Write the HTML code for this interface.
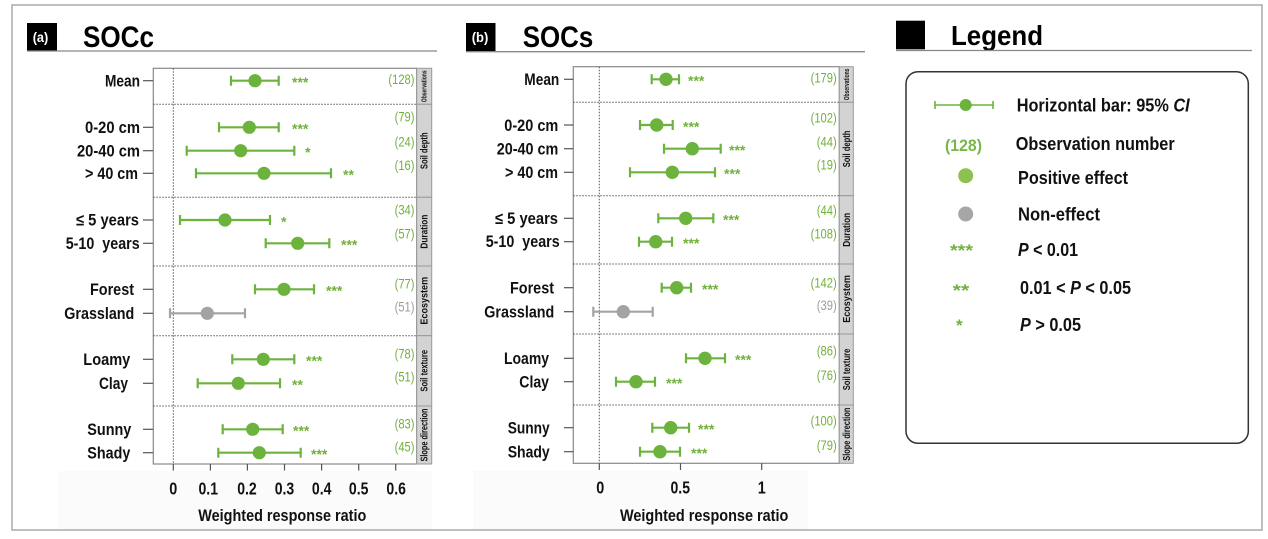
<!DOCTYPE html>
<html><head><meta charset="utf-8"><style>
html,body{margin:0;padding:0;background:#fff;}
svg{display:block;font-family:"Liberation Sans",Arial,sans-serif;}
.lbl{font-size:16.5px;font-weight:bold;fill:#111;}
.tk{font-size:17.5px;font-weight:bold;fill:#111;}
.cnt{font-size:14px;fill:#72b03c;}
.cntg{font-size:14px;fill:#9c9c9c;}
.st{font-size:14px;font-weight:bold;fill:#72b03c;}
.strip{font-size:10px;font-weight:bold;fill:#111;}
.lg{font-size:18.5px;font-weight:bold;fill:#111;}
</style></head><body>
<svg width="1268" height="539" viewBox="0 0 1268 539" xmlns="http://www.w3.org/2000/svg">
<rect x="0" y="0" width="1268" height="539" fill="#fff"/>
<rect x="12" y="5" width="1250" height="525" fill="none" stroke="#aaa" stroke-width="1.5"/>
<rect x="58" y="471" width="374" height="58" fill="#fbfbfb"/>
<rect x="473" y="471" width="335" height="58" fill="#fbfbfb"/>

<!-- ===== Panel A header ===== -->
<rect x="27" y="23" width="30" height="28" fill="#000"/>
<text x="32.7" y="42" font-size="14" font-weight="bold" fill="#fff" textLength="15.6" lengthAdjust="spacingAndGlyphs">(a)</text>
<text x="83" y="47" font-size="29.5" font-weight="bold" fill="#000" textLength="71" lengthAdjust="spacingAndGlyphs">SOCc</text>
<line x1="27" y1="51" x2="437" y2="51" stroke="#888" stroke-width="1.3"/>

<!-- ===== Panel A plot ===== -->
<rect x="153.3" y="68.3" width="263.4" height="395.7" fill="#fff" stroke="#888" stroke-width="1.2"/>
<g stroke="#555" stroke-width="1" stroke-dasharray="1.5,1.5">
<line x1="153.3" y1="104.3" x2="416.7" y2="104.3"/>
<line x1="153.3" y1="197.3" x2="416.7" y2="197.3"/>
<line x1="153.3" y1="266" x2="416.7" y2="266"/>
<line x1="153.3" y1="335.7" x2="416.7" y2="335.7"/>
<line x1="153.3" y1="406" x2="416.7" y2="406"/>
<line x1="173.3" y1="68.3" x2="173.3" y2="464"/>
</g>
<g fill="#d3d3d3" stroke="#9a9a9a" stroke-width="1">
<rect x="416.7" y="68.3" width="15" height="36"/>
<rect x="416.7" y="104.3" width="15" height="93"/>
<rect x="416.7" y="197.3" width="15" height="68.7"/>
<rect x="416.7" y="266" width="15" height="69.7"/>
<rect x="416.7" y="335.7" width="15" height="70.3"/>
<rect x="416.7" y="406" width="15" height="58"/>
</g>
<text class="strip" style="font-size:7px" transform="translate(426.7,86.3) rotate(-90)" x="-15.8" y="0" textLength="31.7" lengthAdjust="spacingAndGlyphs">Observations</text>
<text class="strip" transform="translate(427.7,150.8) rotate(-90)" x="-18.3" y="0" textLength="36.7" lengthAdjust="spacingAndGlyphs">Soil depth</text>
<text class="strip" transform="translate(427.7,231.6) rotate(-90)" x="-17" y="0" textLength="34" lengthAdjust="spacingAndGlyphs">Duration</text>
<text class="strip" transform="translate(427.7,300.8) rotate(-90)" x="-23.8" y="0" textLength="47.7" lengthAdjust="spacingAndGlyphs">Ecosystem</text>
<text class="strip" transform="translate(427.7,370.8) rotate(-90)" x="-20.8" y="0" textLength="41.7" lengthAdjust="spacingAndGlyphs">Soil texture</text>
<text class="strip" transform="translate(427.7,435) rotate(-90)" x="-26.5" y="0" textLength="53" lengthAdjust="spacingAndGlyphs">Slope direction</text>

<g stroke="#555" stroke-width="1.2">
<line x1="143" y1="80.7" x2="153" y2="80.7"/>
<line x1="143" y1="127.3" x2="153" y2="127.3"/>
<line x1="143" y1="150.7" x2="153" y2="150.7"/>
<line x1="143" y1="173.3" x2="153" y2="173.3"/>
<line x1="143" y1="220" x2="153" y2="220"/>
<line x1="143" y1="243.3" x2="153" y2="243.3"/>
<line x1="143" y1="289.3" x2="153" y2="289.3"/>
<line x1="143" y1="313.3" x2="153" y2="313.3"/>
<line x1="143" y1="359.3" x2="153" y2="359.3"/>
<line x1="143" y1="383.3" x2="153" y2="383.3"/>
<line x1="143" y1="429.3" x2="153" y2="429.3"/>
<line x1="143" y1="452.7" x2="153" y2="452.7"/>
</g>
<text class="lbl" x="105" y="86.6" textLength="35" lengthAdjust="spacingAndGlyphs">Mean</text>
<text class="lbl" x="85" y="133.2" textLength="55" lengthAdjust="spacingAndGlyphs">0-20 cm</text>
<text class="lbl" x="77" y="156.6" textLength="63" lengthAdjust="spacingAndGlyphs">20-40 cm</text>
<text class="lbl" x="85" y="179.2" textLength="53" lengthAdjust="spacingAndGlyphs">&gt; 40 cm</text>
<text class="lbl" x="76" y="225.5" textLength="63" lengthAdjust="spacingAndGlyphs">≤ 5 years</text>
<text class="lbl" x="65.7" y="248.8" textLength="74" lengthAdjust="spacingAndGlyphs" xml:space="preserve">5-10  years</text>
<text class="lbl" x="90" y="295.2" textLength="44" lengthAdjust="spacingAndGlyphs">Forest</text>
<text class="lbl" x="64.3" y="319.2" textLength="70" lengthAdjust="spacingAndGlyphs">Grassland</text>
<text class="lbl" x="83.3" y="365.2" textLength="47" lengthAdjust="spacingAndGlyphs">Loamy</text>
<text class="lbl" x="99" y="389.2" textLength="29" lengthAdjust="spacingAndGlyphs">Clay</text>
<text class="lbl" x="87.3" y="435.2" textLength="44" lengthAdjust="spacingAndGlyphs">Sunny</text>
<text class="lbl" x="87.3" y="458.6" textLength="43" lengthAdjust="spacingAndGlyphs">Shady</text>

<g stroke="#6cb33e" stroke-width="2.2" fill="none">
<path d="M231 80.7H278.7M231 75.7V85.7M278.7 75.7V85.7"/>
<path d="M219 127.3H278.7M219 122.3V132.3M278.7 122.3V132.3"/>
<path d="M186.7 150.7H294.3M186.7 145.7V155.7M294.3 145.7V155.7"/>
<path d="M196 173.3H331M196 168.3V178.3M331 168.3V178.3"/>
<path d="M180 220H270M180 215V225M270 215V225"/>
<path d="M265.7 243.3H329.3M265.7 238.3V248.3M329.3 238.3V248.3"/>
<path d="M255 289.3H314M255 284.3V294.3M314 284.3V294.3"/>
<path d="M232.3 359.3H294.3M232.3 354.3V364.3M294.3 354.3V364.3"/>
<path d="M197.7 383.3H280M197.7 378.3V388.3M280 378.3V388.3"/>
<path d="M222.7 429.3H282.7M222.7 424.3V434.3M282.7 424.3V434.3"/>
<path d="M218.3 452.7H300.7M218.3 447.7V457.7M300.7 447.7V457.7"/>
</g>
<path d="M170 313.3H245M170 308.3V318.3M245 308.3V318.3" stroke="#a3a3a3" stroke-width="2.2" fill="none"/>
<g fill="#6cb33e">
<circle cx="255" cy="80.7" r="6.6"/>
<circle cx="249.3" cy="127.3" r="6.6"/>
<circle cx="240.7" cy="150.7" r="6.6"/>
<circle cx="264" cy="173.3" r="6.6"/>
<circle cx="225" cy="220" r="6.6"/>
<circle cx="297.7" cy="243.3" r="6.6"/>
<circle cx="284" cy="289.3" r="6.6"/>
<circle cx="263.3" cy="359.3" r="6.6"/>
<circle cx="238.3" cy="383.3" r="6.6"/>
<circle cx="252.7" cy="429.3" r="6.6"/>
<circle cx="259.3" cy="452.7" r="6.6"/>
</g>
<circle cx="207.3" cy="313.3" r="6.6" fill="#a3a3a3"/>
<text class="st" x="292" y="87">***</text>
<text class="st" x="292" y="133.6">***</text>
<text class="st" x="305" y="157">*</text>
<text class="st" x="343" y="179.6">**</text>
<text class="st" x="281" y="226.3">*</text>
<text class="st" x="341" y="249.6">***</text>
<text class="st" x="326" y="295.6">***</text>
<text class="st" x="306" y="365.6">***</text>
<text class="st" x="292" y="389.6">**</text>
<text class="st" x="293" y="435.6">***</text>
<text class="st" x="311" y="459">***</text>
<g text-anchor="end">
<text class="cnt" transform="translate(414.5,84) scale(0.8,1)">(128)</text>
<text class="cnt" transform="translate(414.5,121.7) scale(0.8,1)">(79)</text>
<text class="cnt" transform="translate(414.5,146.7) scale(0.8,1)">(24)</text>
<text class="cnt" transform="translate(414.5,170) scale(0.8,1)">(16)</text>
<text class="cnt" transform="translate(414.5,214.3) scale(0.8,1)">(34)</text>
<text class="cnt" transform="translate(414.5,238.3) scale(0.8,1)">(57)</text>
<text class="cnt" transform="translate(414.5,288.3) scale(0.8,1)">(77)</text>
<text class="cntg" transform="translate(414.5,311.7) scale(0.8,1)">(51)</text>
<text class="cnt" transform="translate(414.5,358.3) scale(0.8,1)">(78)</text>
<text class="cnt" transform="translate(414.5,381.7) scale(0.8,1)">(51)</text>
<text class="cnt" transform="translate(414.5,428.3) scale(0.8,1)">(83)</text>
<text class="cnt" transform="translate(414.5,451.7) scale(0.8,1)">(45)</text>
</g>
<g stroke="#555" stroke-width="1.2">
<line x1="173.3" y1="464" x2="173.3" y2="470.5"/>
<line x1="210.4" y1="464" x2="210.4" y2="470.5"/>
<line x1="247.4" y1="464" x2="247.4" y2="470.5"/>
<line x1="284.5" y1="464" x2="284.5" y2="470.5"/>
<line x1="321.6" y1="464" x2="321.6" y2="470.5"/>
<line x1="358.7" y1="464" x2="358.7" y2="470.5"/>
<line x1="395.7" y1="464" x2="395.7" y2="470.5"/>
</g>
<text class="tk" x="169.3" y="494.3" textLength="8" lengthAdjust="spacingAndGlyphs">0</text>
<text class="tk" x="198.5" y="494.3" textLength="19.5" lengthAdjust="spacingAndGlyphs">0.1</text>
<text class="tk" x="237.2" y="494.3" textLength="19.5" lengthAdjust="spacingAndGlyphs">0.2</text>
<text class="tk" x="274.7" y="494.3" textLength="19.5" lengthAdjust="spacingAndGlyphs">0.3</text>
<text class="tk" x="311.9" y="494.3" textLength="19.5" lengthAdjust="spacingAndGlyphs">0.4</text>
<text class="tk" x="348.9" y="494.3" textLength="19.5" lengthAdjust="spacingAndGlyphs">0.5</text>
<text class="tk" x="386.4" y="494.3" textLength="19.5" lengthAdjust="spacingAndGlyphs">0.6</text>
<text x="198.3" y="521" font-size="17" font-weight="bold" fill="#111" textLength="168" lengthAdjust="spacingAndGlyphs">Weighted response ratio</text>

<!-- ===== Panel B header ===== -->
<rect x="466" y="23" width="29.5" height="28.5" fill="#000"/>
<text x="471.7" y="42" font-size="14" font-weight="bold" fill="#fff" textLength="16.6" lengthAdjust="spacingAndGlyphs">(b)</text>
<text x="522.7" y="47" font-size="29.5" font-weight="bold" fill="#000" textLength="70.6" lengthAdjust="spacingAndGlyphs">SOCs</text>
<line x1="466" y1="51.7" x2="865" y2="51.7" stroke="#888" stroke-width="1.3"/>

<!-- ===== Panel B plot ===== -->
<rect x="573.3" y="66.7" width="266" height="396.6" fill="#fff" stroke="#888" stroke-width="1.2"/>
<g stroke="#555" stroke-width="1" stroke-dasharray="1.5,1.5">
<line x1="573.3" y1="102.3" x2="839.3" y2="102.3"/>
<line x1="573.3" y1="195.7" x2="839.3" y2="195.7"/>
<line x1="573.3" y1="264" x2="839.3" y2="264"/>
<line x1="573.3" y1="334" x2="839.3" y2="334"/>
<line x1="573.3" y1="405" x2="839.3" y2="405"/>
<line x1="599.3" y1="66.7" x2="599.3" y2="463.3"/>
</g>
<g fill="#d3d3d3" stroke="#9a9a9a" stroke-width="1">
<rect x="839.3" y="66.7" width="14" height="35.6"/>
<rect x="839.3" y="102.3" width="14" height="93.4"/>
<rect x="839.3" y="195.7" width="14" height="68.3"/>
<rect x="839.3" y="264" width="14" height="70"/>
<rect x="839.3" y="334" width="14" height="71"/>
<rect x="839.3" y="405" width="14" height="58.3"/>
</g>
<text class="strip" style="font-size:7px" transform="translate(848.8,84.5) rotate(-90)" x="-15.8" y="0" textLength="31.7" lengthAdjust="spacingAndGlyphs">Observations</text>
<text class="strip" transform="translate(849.8,149) rotate(-90)" x="-18.3" y="0" textLength="36.7" lengthAdjust="spacingAndGlyphs">Soil depth</text>
<text class="strip" transform="translate(849.8,229.8) rotate(-90)" x="-17" y="0" textLength="34" lengthAdjust="spacingAndGlyphs">Duration</text>
<text class="strip" transform="translate(849.8,299) rotate(-90)" x="-23.8" y="0" textLength="47.7" lengthAdjust="spacingAndGlyphs">Ecosystem</text>
<text class="strip" transform="translate(849.8,369.5) rotate(-90)" x="-20.8" y="0" textLength="41.7" lengthAdjust="spacingAndGlyphs">Soil texture</text>
<text class="strip" transform="translate(849.8,434.2) rotate(-90)" x="-26.5" y="0" textLength="53" lengthAdjust="spacingAndGlyphs">Slope direction</text>

<g stroke="#555" stroke-width="1.2">
<line x1="564" y1="79.3" x2="573.3" y2="79.3"/>
<line x1="564" y1="125" x2="573.3" y2="125"/>
<line x1="564" y1="148.7" x2="573.3" y2="148.7"/>
<line x1="564" y1="172.3" x2="573.3" y2="172.3"/>
<line x1="564" y1="218.3" x2="573.3" y2="218.3"/>
<line x1="564" y1="241.7" x2="573.3" y2="241.7"/>
<line x1="564" y1="287.7" x2="573.3" y2="287.7"/>
<line x1="564" y1="311.7" x2="573.3" y2="311.7"/>
<line x1="564" y1="358.3" x2="573.3" y2="358.3"/>
<line x1="564" y1="381.7" x2="573.3" y2="381.7"/>
<line x1="564" y1="427.7" x2="573.3" y2="427.7"/>
<line x1="564" y1="451.7" x2="573.3" y2="451.7"/>
</g>
<text class="lbl" x="524.3" y="85.2" textLength="35" lengthAdjust="spacingAndGlyphs">Mean</text>
<text class="lbl" x="504.3" y="130.9" textLength="54" lengthAdjust="spacingAndGlyphs">0-20 cm</text>
<text class="lbl" x="496.7" y="154.6" textLength="61.6" lengthAdjust="spacingAndGlyphs">20-40 cm</text>
<text class="lbl" x="505" y="178.2" textLength="53" lengthAdjust="spacingAndGlyphs">&gt; 40 cm</text>
<text class="lbl" x="495" y="223.8" textLength="63" lengthAdjust="spacingAndGlyphs">≤ 5 years</text>
<text class="lbl" x="485.7" y="247.2" textLength="74" lengthAdjust="spacingAndGlyphs" xml:space="preserve">5-10  years</text>
<text class="lbl" x="510" y="293.6" textLength="44" lengthAdjust="spacingAndGlyphs">Forest</text>
<text class="lbl" x="484.3" y="317.6" textLength="70" lengthAdjust="spacingAndGlyphs">Grassland</text>
<text class="lbl" x="504" y="364.2" textLength="45" lengthAdjust="spacingAndGlyphs">Loamy</text>
<text class="lbl" x="519.3" y="387.6" textLength="29.7" lengthAdjust="spacingAndGlyphs">Clay</text>
<text class="lbl" x="507.7" y="433.6" textLength="42" lengthAdjust="spacingAndGlyphs">Sunny</text>
<text class="lbl" x="507.7" y="457.6" textLength="42" lengthAdjust="spacingAndGlyphs">Shady</text>

<g stroke="#6cb33e" stroke-width="2.2" fill="none">
<path d="M651.7 79.3H679M651.7 74.3V84.3M679 74.3V84.3"/>
<path d="M640 125H672.7M640 120V130M672.7 120V130"/>
<path d="M664 148.7H720.7M664 143.7V153.7M720.7 143.7V153.7"/>
<path d="M630 172.3H715M630 167.3V177.3M715 167.3V177.3"/>
<path d="M658.3 218.3H713.3M658.3 213.3V223.3M713.3 213.3V223.3"/>
<path d="M639 241.7H672M639 236.7V246.7M672 236.7V246.7"/>
<path d="M661.7 287.7H691M661.7 282.7V292.7M691 282.7V292.7"/>
<path d="M686 358.3H725M686 353.3V363.3M725 353.3V363.3"/>
<path d="M616 381.7H655M616 376.7V386.7M655 376.7V386.7"/>
<path d="M652.3 427.7H689M652.3 422.7V432.7M689 422.7V432.7"/>
<path d="M640 451.7H680M640 446.7V456.7M680 446.7V456.7"/>
</g>
<path d="M593.3 311.7H652.7M593.3 306.7V316.7M652.7 306.7V316.7" stroke="#a3a3a3" stroke-width="2.2" fill="none"/>
<g fill="#6cb33e">
<circle cx="666" cy="79.3" r="6.7"/>
<circle cx="656.7" cy="125" r="6.7"/>
<circle cx="692.3" cy="148.7" r="6.7"/>
<circle cx="672.3" cy="172.3" r="6.7"/>
<circle cx="685.7" cy="218.3" r="6.7"/>
<circle cx="655.7" cy="241.7" r="6.7"/>
<circle cx="676.7" cy="287.7" r="6.7"/>
<circle cx="705" cy="358.3" r="6.7"/>
<circle cx="636" cy="381.7" r="6.7"/>
<circle cx="670.7" cy="427.7" r="6.7"/>
<circle cx="660" cy="451.7" r="6.7"/>
</g>
<circle cx="623.3" cy="311.7" r="6.7" fill="#a3a3a3"/>
<text class="st" x="688" y="85.6">***</text>
<text class="st" x="683" y="131.3">***</text>
<text class="st" x="729" y="155">***</text>
<text class="st" x="724" y="178.6">***</text>
<text class="st" x="723" y="224.6">***</text>
<text class="st" x="683" y="248">***</text>
<text class="st" x="702" y="294">***</text>
<text class="st" x="735" y="364.6">***</text>
<text class="st" x="666" y="388">***</text>
<text class="st" x="698" y="434">***</text>
<text class="st" x="691" y="458">***</text>
<g text-anchor="end">
<text class="cnt" transform="translate(836.7,82.3) scale(0.8,1)">(179)</text>
<text class="cnt" transform="translate(836.7,122.3) scale(0.8,1)">(102)</text>
<text class="cnt" transform="translate(836.7,146.7) scale(0.8,1)">(44)</text>
<text class="cnt" transform="translate(836.7,169.3) scale(0.8,1)">(19)</text>
<text class="cnt" transform="translate(836.7,215) scale(0.8,1)">(44)</text>
<text class="cnt" transform="translate(836.7,238.3) scale(0.8,1)">(108)</text>
<text class="cnt" transform="translate(836.7,287.7) scale(0.8,1)">(142)</text>
<text class="cntg" transform="translate(836.7,310) scale(0.8,1)">(39)</text>
<text class="cnt" transform="translate(836.7,355.7) scale(0.8,1)">(86)</text>
<text class="cnt" transform="translate(836.7,380) scale(0.8,1)">(76)</text>
<text class="cnt" transform="translate(836.7,425.7) scale(0.8,1)">(100)</text>
<text class="cnt" transform="translate(836.7,450) scale(0.8,1)">(79)</text>
</g>
<g stroke="#555" stroke-width="1.2">
<line x1="599.3" y1="463.3" x2="599.3" y2="470"/>
<line x1="680.5" y1="463.3" x2="680.5" y2="470"/>
<line x1="761.7" y1="463.3" x2="761.7" y2="470"/>
</g>
<text class="tk" x="596.2" y="493.5" textLength="8" lengthAdjust="spacingAndGlyphs">0</text>
<text class="tk" x="670.5" y="493.5" textLength="19.5" lengthAdjust="spacingAndGlyphs">0.5</text>
<text class="tk" x="757.7" y="493.5" textLength="8" lengthAdjust="spacingAndGlyphs">1</text>
<text x="620" y="521" font-size="17" font-weight="bold" fill="#111" textLength="168.3" lengthAdjust="spacingAndGlyphs">Weighted response ratio</text>

<!-- ===== Legend ===== -->
<rect x="896" y="20.7" width="29" height="28.6" fill="#000"/>
<text x="951" y="45" font-size="28" font-weight="bold" fill="#000" textLength="92" lengthAdjust="spacingAndGlyphs">Legend</text>
<line x1="896" y1="50.5" x2="1252" y2="50.5" stroke="#888" stroke-width="1.3"/>
<rect x="906" y="71.7" width="342.3" height="371.6" rx="12" ry="12" fill="#fff" stroke="#333" stroke-width="1.5"/>

<path d="M935 105H993M935 101V109M993 101V109" stroke="#6cb33e" stroke-width="1.6" fill="none"/>
<circle cx="965.7" cy="105" r="6" fill="#6cb33e"/>
<text class="lg" x="1016.7" y="111.5" textLength="173" lengthAdjust="spacingAndGlyphs">Horizontal bar: 95% <tspan font-style="italic">CI</tspan></text>

<text x="945" y="151" font-size="17" font-weight="bold" fill="#7ab648" textLength="37" lengthAdjust="spacingAndGlyphs">(128)</text>
<text class="lg" x="1015.7" y="150" textLength="159" lengthAdjust="spacingAndGlyphs">Observation number</text>

<circle cx="965.7" cy="175.7" r="7.5" fill="#8cc152"/>
<text class="lg" x="1018" y="184" textLength="110" lengthAdjust="spacingAndGlyphs">Positive effect</text>

<circle cx="965.7" cy="214" r="7.5" fill="#a6a6a6"/>
<text class="lg" x="1018" y="220.7" textLength="82" lengthAdjust="spacingAndGlyphs">Non-effect</text>

<text x="950" y="256" font-size="17" font-weight="bold" fill="#72b03c" textLength="23" lengthAdjust="spacingAndGlyphs">***</text>
<text class="lg" x="1018" y="256" textLength="60" lengthAdjust="spacingAndGlyphs"><tspan font-style="italic">P</tspan> &lt; 0.01</text>

<text x="952.7" y="296" font-size="17" font-weight="bold" fill="#72b03c" textLength="16.6" lengthAdjust="spacingAndGlyphs">**</text>
<text class="lg" x="1020" y="294" textLength="111" lengthAdjust="spacingAndGlyphs">0.01 &lt; <tspan font-style="italic">P</tspan> &lt; 0.05</text>

<text x="956" y="331" font-size="17" font-weight="bold" fill="#72b03c">*</text>
<text class="lg" x="1020" y="331" textLength="61" lengthAdjust="spacingAndGlyphs"><tspan font-style="italic">P</tspan> &gt; 0.05</text>
</svg>
</body></html>
